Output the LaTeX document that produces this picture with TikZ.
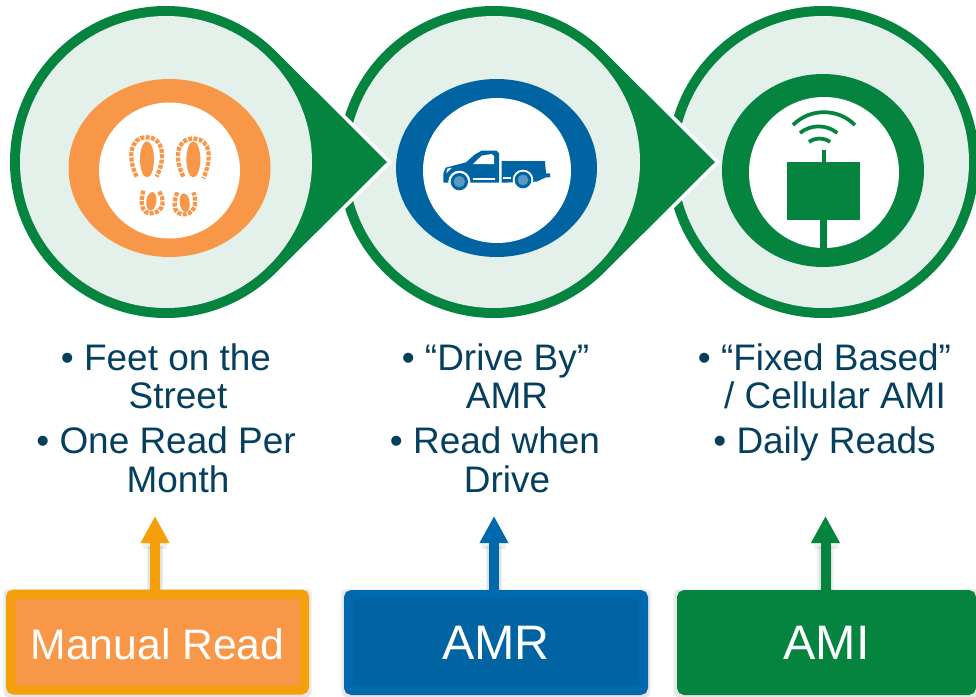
\documentclass[tikz,border=0pt]{standalone}
\usepackage{fontspec}
\setmainfont{Liberation Sans}
\usetikzlibrary{arrows.meta,calc}
\definecolor{dgreen}{HTML}{04843E}
\definecolor{pale}{HTML}{E3F1EA}
\definecolor{orangefill}{HTML}{F89748}
\definecolor{amber}{HTML}{F5A00A}
\definecolor{bluefill}{HTML}{0064A3}
\definecolor{blueline}{HTML}{0068AC}
\definecolor{textblue}{HTML}{053F5E}
\definecolor{wheelblue}{HTML}{5C98C4}
\tikzset{
  teardrop/.style={fill=dgreen,preaction={draw=white,line width=5.5pt,line join=miter}},
  listline/.style={text=textblue,font=\fontsize{27.7}{27}\selectfont,inner sep=0pt,anchor=base},
  labelbox/.style={line width=6.75pt,rounded corners=2.5pt,text=white,font=\fontsize{36.3}{36}\selectfont,
    inner sep=0pt,text height=26pt,text depth=0pt,minimum height=72pt,anchor=center},
  upshaft/.style={line width=7.5pt},
  uphead/.style={-{Triangle[length=20.25pt,width=20.25pt]}},
  softshadow/.style={draw=black,opacity=.06},
  boxshadow/.style={fill=black,opacity=.05,rounded corners=3pt},
  sole/.style={draw=orangefill,line width=3.2pt,dash pattern=on 3pt off 1pt},
  wave/.style={draw=dgreen,line width=2.8pt},
}
\begin{document}
\begin{tikzpicture}[x=.75pt,y=-.75pt]
\useasboundingbox (0,0) rectangle (976,697);
\clip (0,0) rectangle (976,697);
% big circles, back to front
\fill[dgreen] (823,162) circle[radius=156];
\fill[pale] (823,162) circle[radius=146];
\path[teardrop] (715,162) -- (604.3,272.3) arc[start angle=45,end angle=315,radius=156] -- cycle;
\fill[pale] (494,162) circle[radius=146];
\path[teardrop] (387,162) -- (276.3,272.3) arc[start angle=45,end angle=315,radius=156] -- cycle;
\fill[pale] (166,162) circle[radius=146];
% orange icon
\fill[orangefill] (169.5,168) ellipse[x radius=101,y radius=89];
\fill[white] (169.5,170.5) ellipse[x radius=70.5,y radius=68];
\begin{scope}[shift={(60,60)},scale=1/3]
  \fill[orangefill] (261,298) ellipse[x radius=21,y radius=54];
  \fill[orangefill] (400,298) ellipse[x radius=21,y radius=54];
  \draw[sole] (230,350) .. controls (205,300) and (205,232) .. (260,232) .. controls (315,232) and (315,300) .. (290,350);
  \draw[sole] (370,350) .. controls (345,300) and (345,236) .. (400,236) .. controls (455,236) and (455,300) .. (430,355);
  \fill[orangefill,rotate around={-8:(274,424)}] (274,424) ellipse[x radius=15,y radius=28];
  \fill[orangefill,rotate around={8:(374,428)}] (374,428) ellipse[x radius=15,y radius=28];
  \draw[sole] (250,392) .. controls (240,430) and (245,462) .. (275,460) .. controls (315,455) and (315,415) .. (295,392);
  \draw[sole] (352,397) .. controls (335,440) and (345,465) .. (375,463) .. controls (410,458) and (410,420) .. (400,397);
\end{scope}
% blue icon
\fill[bluefill] (496.5,168) ellipse[x radius=100.5,y radius=89];
\fill[white] (497,170.5) ellipse[x radius=74,y radius=72.5];
\begin{scope}[shift={(380,60)},scale=1/3]
  \fill[bluefill] (190,365) -- (190,340) -- (197,323) -- (258,307) -- (285,283) -- (305,272) -- (350,272) -- (357,280)
     -- (357,368) -- (190,368) -- cycle;
  \fill[bluefill] (365,303) -- (495,303) -- (498,340) -- (510,340) -- (510,352) -- (498,352) -- (470,365) -- (365,368) -- cycle;
  \fill[white] (279,312) -- (305,287) -- (335,282) -- (342,288) -- (342,312) -- cycle;
  \fill[white] (199,340) -- (202,326) -- (216,323) -- cycle;
  \fill[white] (280,355) rectangle (345,361);
  \fill[white] (370,352) rectangle (392,356);
  \fill[white] (238,365) circle[radius=33];
  \fill[white] (429,360) circle[radius=31];
  \fill[bluefill] (238,365) circle[radius=26];
  \fill[bluefill] (429,360) circle[radius=25];
  \fill[wheelblue] (238,365) circle[radius=17];
  \fill[wheelblue] (429,360) circle[radius=16];
\end{scope}
% green icon
\fill[dgreen] (823,170.5) ellipse[x radius=101,y radius=96.5];
\fill[white] (824,172.5) ellipse[x radius=75,y radius=75.5];
\fill[dgreen] (820,218) rectangle (827,248);
\fill[dgreen] (787,162) rectangle (860,220);
\fill[dgreen] (822,150) rectangle (826,163);
\draw[wave] (793,125) arc[start angle=225,end angle=315,radius=43.8];
\draw[wave] (800,133) arc[start angle=231,end angle=309,radius=29.6];
\draw[wave] (809,142) arc[start angle=233,end angle=307,radius=17.5];
% lists
\node[listline] (t1a) at (166,370) {• Feet on the};
\node[listline] (t1b) at (178,408) {Street};
\node[listline] (t1c) at (166,453) {• One Read Per};
\node[listline] (t1d) at (178,492) {Month};
\node[listline] (t2a) at (495.5,370) {• “Drive By”};
\node[listline] (t2b) at (507,408) {AMR};
\node[listline] (t2c) at (495,453) {• Read when};
\node[listline] (t2d) at (507,492) {Drive};
\node[listline] (t3a) at (824.5,370) {• “Fixed Based”};
\node[listline] (t3b) at (835,408) {/ Cellular AMI};
\node[listline] (t3c) at (824.5,453) {• Daily Reads};
% arrow tips
\coordinate (tip1) at (155,516);
\coordinate (tip2) at (494,516);
\coordinate (tip3) at (825.5,516);
% box shadows
\path[boxshadow] (3,589) rectangle (312,697);
\path[boxshadow] (4.5,590) rectangle (310.5,697);
\path[boxshadow] (341,589) rectangle (651,697);
\path[boxshadow] (342.5,590) rectangle (649.5,697);
\path[boxshadow] (673,589) rectangle (980,697);
\path[boxshadow] (674.5,590) rectangle (980,697);
% arrow shadows
\foreach \t in {tip1,tip2,tip3}{
  \draw[softshadow,line width=12.5pt] ($(\t)+(0,30)$) -- ($(\t)+(0,75)$);
  \draw[softshadow,line width=10pt] ($(\t)+(0,30)$) -- ($(\t)+(0,75)$);
  \draw[softshadow,line width=4pt] ($(\t)+(-12,30)$) -- ($(\t)+(12,30)$);
}
% boxes
\node[labelbox,draw=amber,fill=orangefill,minimum width=220.5pt,font=\fontsize{32}{32}\selectfont] (box1) at (157.5,642) {Manual Read};
\node[labelbox,draw=blueline,fill=bluefill,minimum width=221.25pt] (box2) at (496,642.5) {AMR};
\node[labelbox,draw=dgreen,fill=dgreen,minimum width=217.5pt] (box3) at (826.5,642.5) {AMI};
% arrows
\draw[upshaft,uphead,draw=amber,fill=amber] (tip1 |- box1.north) -- (tip1);
\draw[upshaft,uphead,draw=blueline,fill=blueline] (tip2 |- box2.north) -- (tip2);
\draw[upshaft,uphead,draw=dgreen,fill=dgreen] (tip3 |- box3.north) -- (tip3);
\end{tikzpicture}
\end{document}
